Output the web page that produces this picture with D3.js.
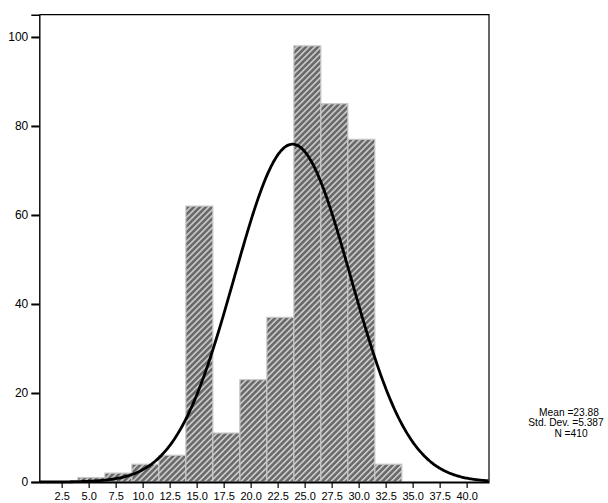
<!DOCTYPE html>
<html>
<head>
<meta charset="utf-8">
<script src="https://cdn.jsdelivr.net/npm/d3@7"></script>
<style>
  html, body { margin: 0; padding: 0; background: #fff; }
  svg { display: block; font-family: Arial, "Liberation Sans", sans-serif; }
</style>
</head>
<body>
<svg id="chart" width="608" height="503"></svg>
<script>
// ---- data ----
const binStarts = [4.0, 6.5, 9.0, 11.5, 14.0, 16.5, 19.0, 21.5, 24.0, 26.5, 29.0, 31.5];
const binWidth = 2.5;
const counts = [1, 2, 4, 6, 62, 11, 23, 37, 98, 85, 77, 4];
const xTicks = [2.5, 5.0, 7.5, 10.0, 12.5, 15.0, 17.5, 20.0, 22.5, 25.0, 27.5, 30.0, 32.5, 35.0, 37.5, 40.0];
const yTicks = [0, 20, 40, 60, 80, 100];
const statMean = 23.88;
const statSD = 5.387;
const statN = 410;
const statLabels = ["Mean =23.88", "Std. Dev. =5.387", "N =410"];

// ---- layout ----
const svg = d3.select("#chart");
const pLeft = 39.3, pRight = 489, pTop = 14.7, pBottom = 482;

const x = d3.scaleLinear().domain([0.43, 42.07]).range([pLeft, pRight]);
const y = d3.scaleLinear().domain([0, 105]).range([pBottom, pTop]);

// hatch pattern
const defs = svg.append("defs");
const pat = defs.append("pattern")
  .attr("id", "hatch")
  .attr("patternUnits", "userSpaceOnUse")
  .attr("width", 4.25).attr("height", 4.25)
  .attr("patternTransform", "rotate(45)");
pat.append("rect").attr("width", 4.25).attr("height", 4.25).attr("fill", "#6a6a6a");
pat.append("rect").attr("x", 0).attr("width", 1.6).attr("height", 4.25).attr("fill", "#cdcdcd");

// frame (top & right)
svg.append("path")
  .attr("d", `M${pLeft},${pTop}H${pRight}V${pBottom}`)
  .attr("fill", "none").attr("stroke", "#000").attr("stroke-width", 1.2);

// bars
const bins = binStarts.map((s, i) => ({ x0: s, x1: s + binWidth, n: counts[i] }));
svg.append("g").selectAll("rect").data(bins).join("rect")
  .attr("x", d => x(d.x0))
  .attr("y", d => y(d.n))
  .attr("width", d => x(d.x1) - x(d.x0))
  .attr("height", d => y(0) - y(d.n))
  .attr("fill", "url(#hatch)")
  .attr("stroke", "#c8c8c8")
  .attr("stroke-width", 1.2);

// normal curve (from the stated mean, std. dev. and N)
const dom = x.domain();
const pts = d3.range(dom[0], dom[1] + 0.001, 0.1).map(v => {
  const z = (v - statMean) / statSD;
  return [v, statN * binWidth / (statSD * Math.sqrt(2 * Math.PI)) * Math.exp(-0.5 * z * z)];
});
svg.append("path")
  .datum(pts)
  .attr("d", d3.line().x(d => x(d[0])).y(d => y(d[1])).curve(d3.curveBasis))
  .attr("fill", "none").attr("stroke", "#000").attr("stroke-width", 2.8);

// y axis
const yAxis = svg.append("g")
  .attr("transform", `translate(${pLeft},0)`)
  .call(d3.axisLeft(y).tickValues(yTicks).tickFormat(d3.format("d")).tickSize(8).tickPadding(3));
yAxis.select(".domain").attr("stroke", "#000").attr("stroke-width", 1.4);
yAxis.selectAll(".tick line").attr("stroke", "#000").attr("stroke-width", 2);
yAxis.selectAll(".tick text").attr("font-size", 12).attr("fill", "#000")
  .attr("font-family", "Arial, 'Liberation Sans', sans-serif");

// x axis
const xAxis = svg.append("g")
  .attr("transform", `translate(0,${pBottom})`)
  .call(d3.axisBottom(x).tickValues(xTicks).tickFormat(d3.format(".1f")).tickSize(6).tickPadding(4.5).tickSizeOuter(0));
xAxis.select(".domain").attr("stroke", "#000").attr("stroke-width", 2.2);
xAxis.selectAll(".tick line").attr("stroke", "#000").attr("stroke-width", 1.2);
xAxis.selectAll(".tick text").attr("font-size", 11).attr("fill", "#000")
  .attr("font-family", "Arial, 'Liberation Sans', sans-serif");

// stats text
const statX = [569, 566, 571];
svg.append("g").selectAll("text").data(statLabels).join("text")
  .attr("x", (d, i) => statX[i])
  .attr("y", (d, i) => 416 + i * 10.3)
  .attr("text-anchor", "middle")
  .attr("font-size", 10.2)
  .attr("fill", "#000")
  .text(d => d);
</script>
</body>
</html>
